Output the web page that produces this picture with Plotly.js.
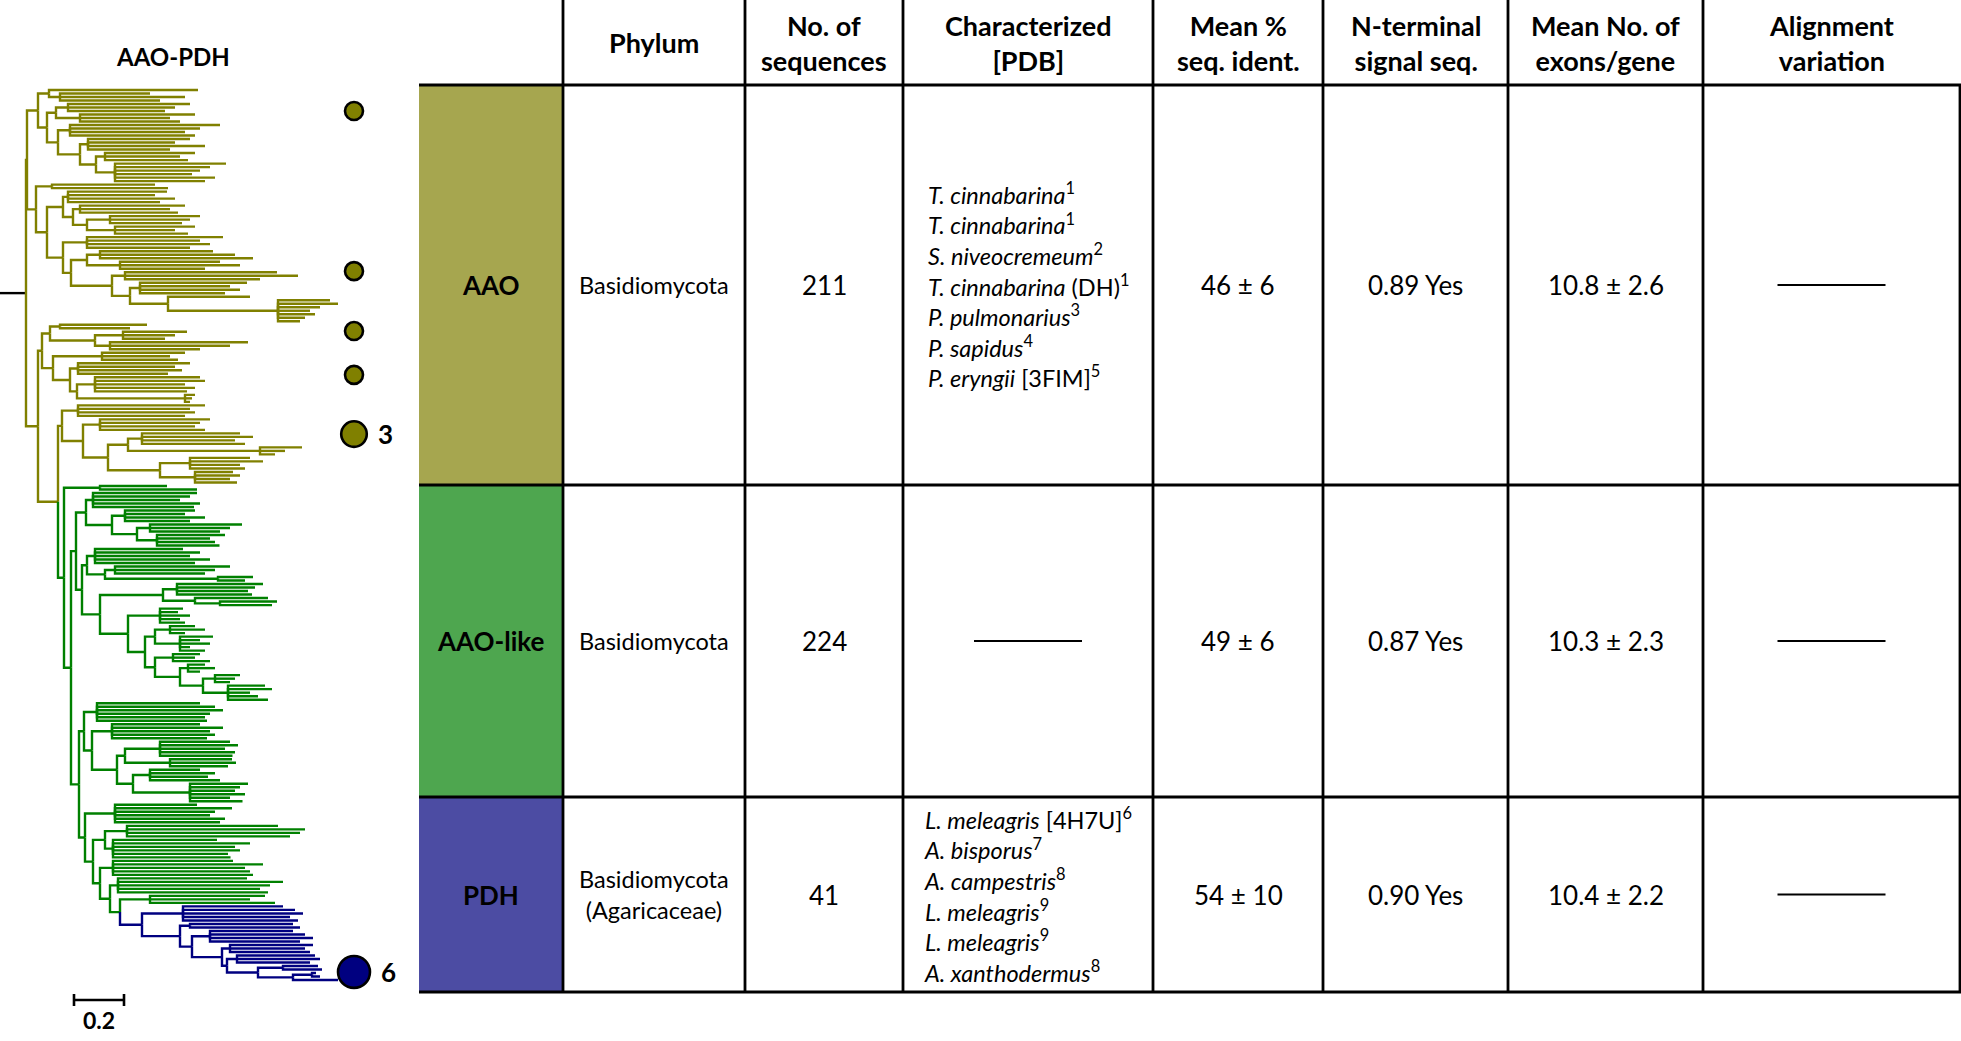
<!DOCTYPE html>
<html><head><meta charset="utf-8">
<script src="https://cdn.plot.ly/plotly-3.0.1.min.js"></script>
<style>html,body{margin:0;padding:0;background:#fff;overflow:hidden}#chart{width:1961px;height:1041px}</style>
</head><body><div id="chart"></div>
<script>
// ================= DATA =================
// Phylogenetic tree (nested arrays): internal node = [branchLength, child, child, ...],
// optionally prefixed by a clade name; leaf = branchLength.
// Branch lengths in 0.001 substitutions per site.
const PDH_TREE = ["PDH", 88,
  [164, 400, 448, 480, 428, 460],
  [152, [40, 412, 440],
    [48, [72, 332, 380, 412, 360],
      [120, [32, 332, 300, 320],
        [20, [40, 312, 332, 292],
          [124, [100, 140, 156],
            [140, [76, 16, 32], 180]]]]]]];

const AAOLIKE_GA1 = [20,
  [40, [28, 416, 388, 348, 428, 404], [104, [52, 280, 240, 320, 260], [100, [52, 368, 320, 280], [80, 272, 212, 232, 250]]]],
  [24,
    [20, [32, 352, 420, 380, 460, 400], [72, [40, 460, 400, 360], [452, 140, 108]]],
    [72,
      [252, [56, 344, 312, 284, 300], [128, 292, [100, 228, 208]]],
      [112, [128, 92, 72, 120, 80, 100],
        [68,
          [40, [60, 100, 140, 60], [100, 132, 80, 120, 40, 100]],
          [40, [72, 108, 88, 148], [100, [32, 68, 108, 48], [92, [48, 100, 80, 60], [100, 148, 176, 88, 120, 160]]]]]]]]];

const AAOLIKE_GB = [32,
  [20, [52, 412, 472, 504, 452, 432, 440],
    [32, [80, 352, 444, 392, 412, 380],
      [100, [32, [140, 280, 312, 260, 300, 290], [180, 248, 264, 232]],
            [64, [68, 200, 260, 232, 280], [228, 232, 200, 180, 220, 160, 210]]]]],
  [24, [120, 328, 468, 400, 380, 440, 420],
    [32, [48, [88, 604, 712, 692, 652], [32, 416, 548, 488, 508, 460, 470]],
      [28, [52, 480, 600, 528, 548, 560],
        [40, [32, 516, 660, 608, 568, 600],
          [40, [120, 460, 400, 500], PDH_TREE]]]]]];

const AAOLIKE_TREE = ["AAO-like", 24, [144, 268, 388], [28, AAOLIKE_GA1, AAOLIKE_GB]];

const AAO_TREE_A = ["AAO", 4,
  [44,
    [44, 596, [44, 360, 500, 400]],
    [36,
      [36, [48, 488, 428, 388], [96, 460, 360, 400]],
      [44, [48, 600, 520, 460, 500], [88, [32, 408, 348, 468, 328], [64, [36, 360, 300, 332], [76, 444, 380, 340, 308, 400, 360]]]]]],
  [36,
    [64, 412, 464],
    [44,
      [64, [20, 396, 348, 428, 368], [40, [28, 420, 360, 392], [56, [92, 360, 320, 288], [112, 320, 240, 292]]]],
      [64,
        [96, 544, 452, 492, 412],
        [32,
          [64, [52, 452, 540, 612], [132, 400, 480, 340]],
          [164, [52, 608, 692, 540], [72, [40, 428, 360, 400, 340], [152, 328, [440, 208, 240, 168, 128, 148, 108, 88]]]]]]]]];

const AAO_TREE_B1 = [16,
  [32, [40, 348, 280], [180, [112, 256, 208, 168], [60, 552, 480, 360]]],
  [44, [196, 332, 272, 304], [68, [32, 448, 388, 416, 360], [28, [72, 420, 440, 360, 400, 368], [432, 40, 28, 20]]]]];

const AAO_TREE_C1 = [16,
  [64, 508, 448, 468, 428],
  [84, [68, 440, 400, 380, 420],
    [100, [80, [56, 392, 444, 372, 412], [528, 168, 100, 60]],
          [208, [120, 240, 292, 200, 220], [140, 152, 180, 140, 168]]]]];

const TREE = ["root", 104, AAO_TREE_A, ["AAO", 48, AAO_TREE_B1, [80, AAO_TREE_C1, AAOLIKE_TREE]]];

const TREE_TITLE = "AAO-PDH";
const SCALE_BAR = 0.2;               // substitutions per site

// Characterized enzymes marked next to the tree
const CHAR_CLADE = ["AAO", "AAO", "AAO", "AAO", "AAO", "PDH"];
const CHAR_COUNT = [1, 1, 1, 1, 3, 6];
const CHAR_LEAF  = [6.0, 51.7, 68.8, 81.3, 98.2, 251.7];   // position along the leaf order

// Table
const HEADERS = ["", "Phylum", "No. of<br>sequences", "Characterized<br>[PDB]", "Mean %<br>seq. ident.", "N-terminal<br>signal seq.", "Mean No. of<br>exons/gene", "Alignment<br>variation"];
const GROUPS = ["AAO", "AAO-like", "PDH"];
const PHYLUM = ["Basidiomycota", "Basidiomycota", "Basidiomycota<br>(Agaricaceae)"];
const N_SEQ = [211, 224, 41];
const AAO_CHAR = [["T. cinnabarina", "", 1], ["T. cinnabarina", "", 1], ["S. niveocremeum", "", 2], ["T. cinnabarina", "(DH)", 1], ["P. pulmonarius", "", 3], ["P. sapidus", "", 4], ["P. eryngii", "[3FIM]", 5]];
const PDH_CHAR = [["L. meleagris", "[4H7U]", 6], ["A. bisporus", "", 7], ["A. campestris", "", 8], ["L. meleagris", "", 9], ["L. meleagris", "", 9], ["A. xanthodermus", "", 8]];
const CHARACTERIZED = [AAO_CHAR, null, PDH_CHAR];
const SEQ_IDENT = ["46 ± 6", "49 ± 6", "54 ± 10"];
const SIGNAL_SEQ = ["0.89 Yes", "0.87 Yes", "0.90 Yes"];
const EXONS = ["10.8 ± 2.6", "10.3 ± 2.3", "10.4 ± 2.2"];
const ALIGN_VAR = [null, null, null];

// ================= STYLE / LAYOUT =================
const W = 1961, H = 1041;
const FONT = 'Lato, "Liberation Sans", sans-serif';
const TREE_COLORS = {"root": "#000000", "AAO": "#808000", "AAO-like": "#008000", "PDH": "#000080"};
const CELL_COLORS = {"AAO": "#a6a64f", "AAO-like": "#4ea64f", "PDH": "#4c4ca3"};
const COL_X = [419, 563, 745, 903, 1153, 1323, 1508, 1703, 1960];
const ROW_Y = [85, 485, 797, 992];
const PX = x => x / W, PY = y => 1 - y / H;
const TREE_TOP = 90, TREE_BOTTOM = 980;   // pixel span of the leaves
const UNIT_PER_PX = 4;                    // 250 px per substitution/site

// ---- build tree ----
let leafCount = 0;
function build(node, parentX, color) {
  if (typeof node === 'number') return {x: parentX + node, y: leafCount++, color: color, kids: []};
  let i = 0;
  if (typeof node[0] === 'string') { color = TREE_COLORS[node[0]]; i = 1; }
  const x = parentX + node[i];
  const kids = node.slice(i + 1).map(c => build(c, x, color));
  return {x: x, y: (kids[0].y + kids[kids.length - 1].y) / 2, color: color, kids: kids};
}
const root = build(TREE, 0, '#000');
const segs = {};
function addSeg(color, xs, ys) {
  if (!segs[color]) segs[color] = {x: [], y: []};
  segs[color].x.push(...xs, null); segs[color].y.push(...ys, null);
}
addSeg(root.color, [0, root.x], [root.y, root.y]);
(function walk(n) {
  n.kids.forEach(k => { addSeg(k.color, [n.x, n.x, k.x], [n.y, k.y, k.y]); walk(k); });
})(root);

const pxPerLeaf = (TREE_BOTTOM - TREE_TOP) / (leafCount - 1);

const traces = Object.keys(segs).map(c => ({
  type: 'scatter', mode: 'lines', x: segs[c].x, y: segs[c].y,
  line: {color: c, width: 2.4}, hoverinfo: 'skip', showlegend: false
}));

// characterized markers
const markX = 354 * UNIT_PER_PX;
const markSize = CHAR_COUNT.map(c => 18 * Math.pow(c, 0.32));
traces.push({
  type: 'scatter', mode: 'markers', x: CHAR_LEAF.map(() => markX), y: CHAR_LEAF,
  marker: {size: markSize, color: CHAR_CLADE.map(c => TREE_COLORS[c]), line: {color: '#000', width: 2.6}, opacity: 1},
  hoverinfo: 'skip', showlegend: false
});

const annotations = [];
const shapes = [];
function ann(text, x, y, size, extra) {
  return Object.assign({text: text, x: PX(x), y: PY(y), xref: 'paper', yref: 'paper', showarrow: false,
    xanchor: 'center', yanchor: 'middle', font: {family: FONT, size: size, color: '#000'}}, extra || {});
}
CHAR_COUNT.forEach((c, i) => {
  if (c > 1) annotations.push({text: '<b>' + c + '</b>', x: markX, y: CHAR_LEAF[i], xref: 'x', yref: 'y',
    showarrow: false, xanchor: 'left', yanchor: 'middle', xshift: markSize[i] / 2 + 9,
    font: {family: FONT, size: 26, color: '#000'}});
});

// tree title and scale bar
annotations.push(ann('<b>' + TREE_TITLE + '</b>', 173, 56, 24));
const sbX0 = 74 * UNIT_PER_PX, sbX1 = sbX0 + SCALE_BAR * 1000;
shapes.push({type: 'line', xref: 'x', yref: 'paper', x0: sbX0, x1: sbX1, y0: PY(1000), y1: PY(1000), line: {color: '#000', width: 2.6}});
[sbX0, sbX1].forEach(x => shapes.push({type: 'line', xref: 'x', yref: 'paper', x0: x, x1: x, y0: PY(994), y1: PY(1006), line: {color: '#000', width: 2.6}}));
annotations.push({text: '<b>' + SCALE_BAR + '</b>', x: (sbX0 + sbX1) / 2, y: PY(1020), xref: 'x', yref: 'paper', showarrow: false,
  xanchor: 'center', yanchor: 'middle', font: {family: FONT, size: 23, color: '#000'}});

// ---- table ----
const colC = i => (COL_X[i] + COL_X[i + 1]) / 2;
GROUPS.forEach((g, r) => shapes.push({type: 'rect', xref: 'paper', yref: 'paper', x0: PX(COL_X[0]), x1: PX(COL_X[1]),
  y0: PY(ROW_Y[r + 1]), y1: PY(ROW_Y[r]), fillcolor: CELL_COLORS[g], line: {width: 0}, layer: 'below'}));
const LW = 2.8;
ROW_Y.forEach(y => shapes.push({type: 'line', xref: 'paper', yref: 'paper', x0: PX(COL_X[0]), x1: PX(COL_X[8] + 1.4), y0: PY(y), y1: PY(y), line: {color: '#000', width: LW}}));
COL_X.slice(1, 8).forEach(x => shapes.push({type: 'line', xref: 'paper', yref: 'paper', x0: PX(x), x1: PX(x), y0: PY(0), y1: PY(ROW_Y[3]), line: {color: '#000', width: LW}}));
shapes.push({type: 'line', xref: 'paper', yref: 'paper', x0: PX(COL_X[8]), x1: PX(COL_X[8]), y0: PY(ROW_Y[0]), y1: PY(ROW_Y[3]), line: {color: '#000', width: LW}});

HEADERS.forEach((h, i) => { if (h) annotations.push(ann('<b>' + h + '</b>', colC(i), 43, 27)); });

function dash(cx, cy) {
  shapes.push({type: 'line', xref: 'paper', yref: 'paper', x0: PX(cx - 54), x1: PX(cx + 54), y0: PY(cy), y1: PY(cy), line: {color: '#000', width: 2}});
}
GROUPS.forEach((g, r) => {
  const yc = (ROW_Y[r] + ROW_Y[r + 1]) / 2;
  annotations.push(ann('<b>' + g + '</b>', colC(0), yc, 26));
  annotations.push(ann(PHYLUM[r], colC(1), yc, 23.5));
  annotations.push(ann(String(N_SEQ[r]), colC(2), yc, 26));
  if (CHARACTERIZED[r]) {
    const txt = CHARACTERIZED[r].map(e => '<i>' + e[0] + '</i>' + (e[1] ? ' ' + e[1] : '') + '<sup>' + e[2] + '</sup>').join('<br>');
    annotations.push(ann(txt, colC(3), yc, 23.5, {align: 'left'}));
  } else dash(colC(3), yc);
  annotations.push(ann(SEQ_IDENT[r], colC(4), yc, 26));
  annotations.push(ann(SIGNAL_SEQ[r], colC(5), yc, 26));
  annotations.push(ann(EXONS[r], colC(6), yc, 26));
  if (ALIGN_VAR[r]) annotations.push(ann(ALIGN_VAR[r], colC(7), yc, 26)); else dash(colC(7), yc);
});

const layout = {
  width: W, height: H, margin: {l: 0, r: 0, t: 0, b: 0}, paper_bgcolor: '#fff', plot_bgcolor: 'rgba(0,0,0,0)',
  xaxis: {range: [0, W * UNIT_PER_PX], domain: [0, 1], visible: false, fixedrange: true},
  yaxis: {range: [(H - TREE_TOP) / pxPerLeaf, -TREE_TOP / pxPerLeaf], domain: [0, 1], visible: false, fixedrange: true},
  shapes: shapes, annotations: annotations, showlegend: false, hovermode: false
};
Plotly.newPlot('chart', traces, layout, {staticPlot: true, displayModeBar: false});
</script></body></html>
